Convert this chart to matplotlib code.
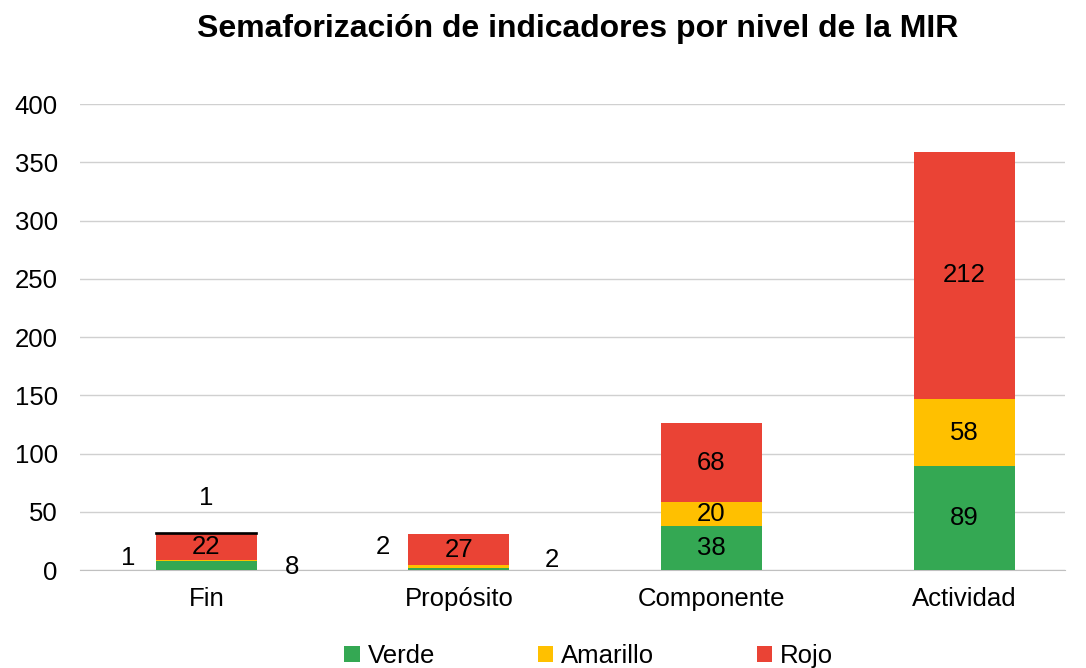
import matplotlib
matplotlib.use("Agg")
import matplotlib.pyplot as plt
import numpy as np

plt.rcParams['font.family'] = ['Liberation Sans', 'DejaVu Sans']

categories = ["Fin", "Propósito", "Componente", "Actividad"]
verde = [8, 2, 38, 89]
amarillo = [1, 2, 20, 58]
rojo = [22, 27, 68, 212]
sin_dato = [1, 0, 0, 0]

colors = {"Verde": "#34A853", "Amarillo": "#FFC000", "Rojo": "#EA4335"}

fig = plt.figure(figsize=(10.86, 6.68), dpi=100)
ax = fig.add_axes([0.0737, 0.1467, 0.907, 0.6976])

x = np.arange(len(categories))
w = 0.4
b1 = ax.bar(x, verde, w, color=colors["Verde"], label="Verde", zorder=3)
bot = np.array(verde)
b2 = ax.bar(x, amarillo, w, bottom=bot, color=colors["Amarillo"], label="Amarillo", zorder=3)
bot = bot + np.array(amarillo)
b3 = ax.bar(x, rojo, w, bottom=bot, color=colors["Rojo"], label="Rojo", zorder=3)
bot = bot + np.array(rojo)
ax.bar(x, sin_dato, w, bottom=bot, color="black", edgecolor="black",
       linewidth=[1.2 if v else 0 for v in sin_dato], zorder=3)

fs = 18.5
# labels inside the bars (only where segments are tall enough)
for i in range(len(categories)):
    if verde[i] >= 20:
        ax.text(x[i], verde[i] / 2, str(verde[i]), ha="center", va="center", fontsize=fs, zorder=4)
    if amarillo[i] >= 10:
        ax.text(x[i], verde[i] + amarillo[i] / 2, str(amarillo[i]), ha="center", va="center", fontsize=fs, zorder=4)
    ax.text(x[i], verde[i] + amarillo[i] + rojo[i] / 2, str(rojo[i]), ha="center", va="center", fontsize=fs, zorder=4)

# small segments labelled outside the bars
ax.text(x[0] - 0.31, 10, str(amarillo[0]), ha="center", va="center", fontsize=fs)
ax.text(x[0] + 0.34, 3, str(verde[0]), ha="center", va="center", fontsize=fs)
ax.text(x[0], 62, str(sin_dato[0]), ha="center", va="center", fontsize=fs)
ax.text(x[1] - 0.30, 20, str(amarillo[1]), ha="center", va="center", fontsize=fs)
ax.text(x[1] + 0.37, 9, str(verde[1]), ha="center", va="center", fontsize=fs)

ax.set_ylim(0, 400)
ax.set_xlim(-0.5, 3.4)
ax.set_yticks(range(0, 401, 50))
ax.set_xticks(x)
ax.set_xticklabels(categories)
ax.tick_params(axis="both", length=0, labelsize=fs)
ax.tick_params(axis="x", pad=12)
ax.tick_params(axis="y", pad=16)
ax.yaxis.grid(True, color="#d0d0d0", linewidth=1, zorder=0)
for s in ["top", "right", "left"]:
    ax.spines[s].set_visible(False)
ax.spines["bottom"].set_color("#c0c0c0")

fig.text(0.532, 0.957, "Semaforización de indicadores por nivel de la MIR",
         ha="center", va="center", fontsize=23, fontweight="bold")

fig.legend(handles=[b1, b2, b3], labels=["Verde", "Amarillo", "Rojo"],
           loc="center", bbox_to_anchor=(0.542, 0.018), ncol=3, frameon=False,
           fontsize=fs, handlelength=0.6, handleheight=0.6, handletextpad=0.3,
           columnspacing=4.0)

fig.savefig("out.png", dpi=100)
